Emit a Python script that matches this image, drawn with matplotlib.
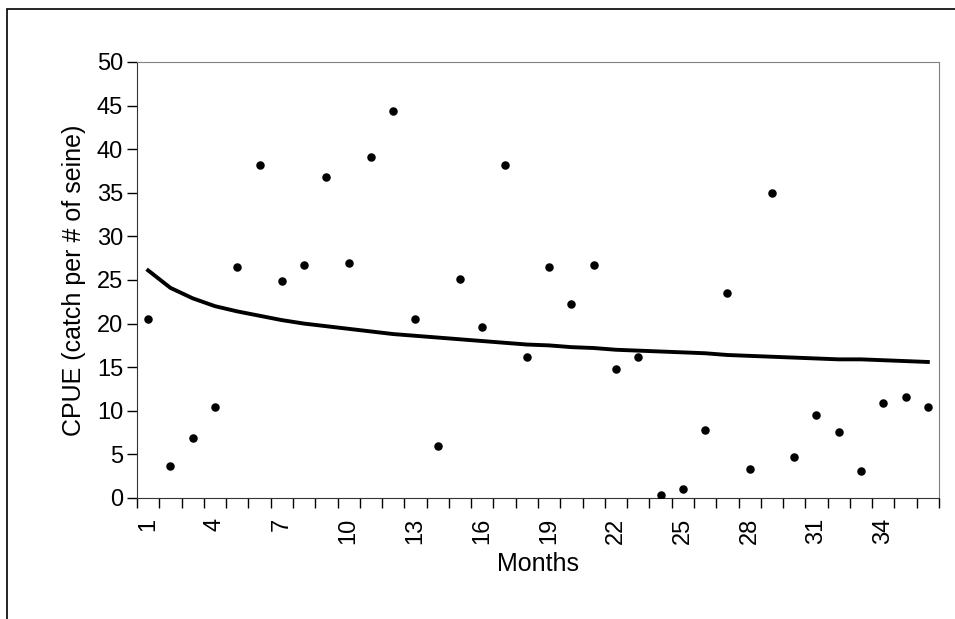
import matplotlib.pyplot as plt
from matplotlib.patches import Rectangle

plt.rcParams['font.family'] = ['Liberation Sans', 'DejaVu Sans']

months = list(range(1, 37))
cpue = [20.5, 3.7, 6.9, 10.4, 26.5, 38.2, 24.9, 26.7, 36.8, 27.0, 39.1, 44.4,
        20.5, 6.0, 25.1, 19.6, 38.2, 16.2, 26.5, 22.2, 26.7, 14.8, 16.2, 0.3,
        1.0, 7.8, 23.5, 3.3, 35.0, 4.7, 9.5, 7.6, 3.1, 10.9, 11.6, 10.4]
trend = [26.1, 24.1, 22.9, 22.0, 21.4, 20.9, 20.4, 20.0, 19.7, 19.4, 19.1, 18.8,
         18.6, 18.4, 18.2, 18.0, 17.8, 17.6, 17.5, 17.3, 17.2, 17.0, 16.9, 16.8,
         16.7, 16.6, 16.4, 16.3, 16.2, 16.1, 16.0, 15.9, 15.9, 15.8, 15.7, 15.6]
tick_labels = [str(m) for m in range(1, 36, 3)]

W, H = 955, 619
fig = plt.figure(figsize=(W / 100, H / 100), dpi=100)
fig.patches.append(Rectangle((7 / W, -0.1), 1.2, 1 - 9 / H + 0.1, transform=fig.transFigure,
                             fill=False, edgecolor='black', linewidth=1.2))
ax = fig.add_axes([137 / W, 1 - 498 / H, (939 - 137) / W, (498 - 62) / H])

ax.plot(months, trend, color='black', linewidth=2.8)
ax.scatter(months, cpue, s=26, color='black', zorder=3)

ax.set_xlim(0.5, 36.5)
ax.set_ylim(0, 50)
ax.set_yticks(range(0, 51, 5))
ax.set_xticks([m + 0.5 for m in range(0, 37)], minor=False)
ax.set_xticklabels([])
ax.set_xticks(list(range(1, 36, 3)), minor=True)
ax.set_xticklabels(tick_labels, minor=True, rotation=90)
ax.tick_params(axis='x', which='major', length=7, direction='out', width=1)
ax.tick_params(axis='x', which='minor', length=0, labelsize=17, pad=14)
ax.tick_params(axis='y', length=7, direction='out', labelsize=17, width=1, pad=3)
for s in ['top', 'right']:
    ax.spines[s].set_color('#808080')
for s in ['left', 'bottom']:
    ax.spines[s].set_color('#333333')

ax.set_xlabel('Months', fontsize=18, labelpad=6)
ax.set_ylabel('CPUE (catch per # of seine)', fontsize=18, labelpad=8)

fig.savefig('out.png', dpi=100)
